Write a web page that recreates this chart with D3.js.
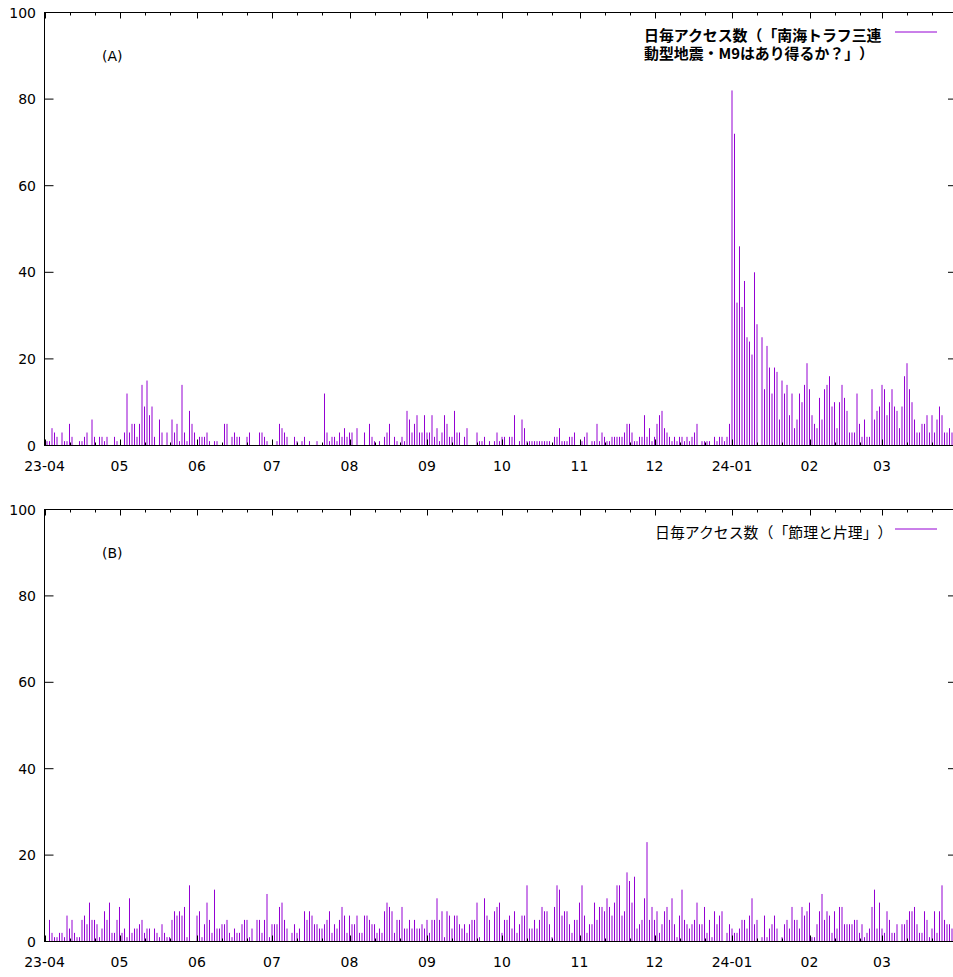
<!DOCTYPE html>
<html>
<head>
<meta charset="utf-8">
<script src="https://cdn.jsdelivr.net/npm/d3@7"></script>
<style>
  body { margin: 0; background: #fff; }
  svg { display: block; }
  .key { text-spacing-trim: space-all; font-feature-settings: "chws" 0, "halt" 0, "palt" 0; }
</style>
</head>
<body>
<div id="chart"></div>
<script>
// Date range of the x axis (one bar per day)
const startDate = "2023-04-01";
const endDate = "2024-03-31";
const monthLabels = ["23-04", "05", "06", "07", "08", "09", "10", "11", "12", "24-01", "02", "03"];
const yTicks = [0, 20, 40, 60, 80, 100];

// (A) daily access counts, one row per month (Apr 2023 .. Mar 2024)
const accessA = [
  [2,1,1,4,3,2,0,3,1,1, 5,2,0,0,1,1,2,3,0,6, 2,0,2,2,1,2,0,0,2,1],
  [0,0,3,12,3,5,5,2,5,14, 9,15,7,9,2,0,6,3,0,3, 0,6,3,5,1,14,3,1,8,5, 3],
  [0,2,2,2,3,1,0,1,1,0, 0,5,5,0,2,3,2,2,0,0, 2,3,0,0,0,3,3,2,1,0],
  [0,0,1,5,4,3,2,0,0,2, 1,0,1,2,0,1,0,0,1,0, 0,12,3,1,2,2,1,3,2,4, 2],
  [3,3,0,4,0,0,3,0,5,2, 1,0,1,0,2,3,5,0,2,1, 0,2,1,8,6,3,5,7,3,3, 7],
  [3,3,7,2,4,1,3,7,5,2, 2,8,3,3,0,2,4,0,0,0, 3,1,1,2,0,1,0,1,3,1],
  [2,2,0,2,2,7,0,1,6,4, 1,1,1,1,1,1,1,1,1,1, 0,2,2,4,1,1,1,2,2,3, 0],
  [0,1,2,3,0,1,1,5,1,3, 2,1,1,2,2,2,2,2,3,5, 5,3,1,1,2,2,7,2,4,1],
  [2,5,7,8,4,3,2,1,2,1, 2,2,1,2,1,2,3,5,0,1, 1,1,1,0,2,1,2,2,1,2, 5],
  [82,72,33,46,32,38,25,24,21,40, 28,0,25,13,23,18,12,18,17,6, 15,12,14,7,12,4,6,12,10,14, 19],
  [13,7,5,4,11,6,13,14,16,9, 10,4,10,14,11,8,3,3,3,12, 5,2,6,2,2,13,6,8,9],
  [14,13,7,10,13,9,8,4,9,16, 19,13,10,6,3,3,5,5,7,3, 7,3,6,9,7,3,3,4,3,3]
];

// (B) daily access counts, one row per month
const accessB = [
  [1,0,5,2,1,1,2,2,1,6, 3,5,2,1,1,5,6,4,9,5, 5,4,1,3,7,5,9,2,2,5],
  [8,2,3,1,10,2,3,3,4,5, 2,3,3,0,3,2,1,4,2,1, 1,5,7,6,7,6,8,1,13,0, 0],
  [6,7,1,4,9,5,2,12,3,3, 4,4,5,2,1,3,2,2,4,5, 5,1,3,0,5,5,2,5,11,1],
  [4,4,4,8,9,5,3,0,2,4, 2,3,0,7,5,7,6,4,4,3, 3,4,5,7,2,4,3,5,8,6, 2],
  [6,4,4,6,2,2,6,6,5,4, 4,2,3,2,7,9,8,7,2,5, 5,8,3,3,5,3,5,3,3,4, 3],
  [5,2,5,5,10,5,7,1,7,6, 3,6,6,4,3,4,2,4,5,5, 9,1,0,10,6,5,0,7,8,9],
  [2,5,5,6,3,7,2,4,6,6, 13,3,3,5,3,5,8,7,7,4, 1,8,13,12,6,7,7,4,2,5, 5],
  [9,13,6,2,4,4,9,5,8,8, 7,10,8,6,9,13,13,6,7,16, 14,9,15,3,4,5,10,23,5,8],
  [5,7,2,4,7,8,5,10,4,1, 6,12,5,4,3,4,5,9,4,4, 8,2,5,1,7,4,6,7,0,2, 4],
  [3,2,2,3,5,5,3,6,10,4, 5,0,1,6,1,3,4,6,3,0, 1,4,5,3,8,5,5,3,8,6, 7],
  [9,1,1,4,7,11,5,7,6,2, 7,3,8,8,4,4,4,4,5,5, 2,4,1,2,3,8,12,3,9],
  [3,2,7,5,2,2,4,0,4,4, 5,7,7,8,4,2,2,7,5,1, 3,7,2,7,13,5,4,4,3,3]
];

const keyA = ["日毎アクセス数（「南海トラフ三連", "動型地震・M9はあり得るか？」）"];
const keyB = ["日毎アクセス数（「節理と片理」）"];

const W = 953, H = 977;
const barColor = "#9400d3";
const tickFont = "'DejaVu Sans', sans-serif";
const cjkFont = "'Noto Sans CJK JP', sans-serif";

const parse = d3.utcParse("%Y-%m-%d");
const t0 = parse(startDate), t1 = parse(endDate);

const x = d3.scaleUtc().domain([t0, t1]).range([44.5, 957]);

const svg = d3.select("#chart").append("svg")
  .attr("width", W)
  .attr("height", H)
  .style("background", "#fff");

function drawPanel(rows, top, bottom, label, key, bold) {
  const data = rows.flat().map((v, i) => ({ date: d3.utcDay.offset(t0, i), value: v }));
  const y = d3.scaleLinear().domain([0, 100]).range([bottom, top]);
  const g = svg.append("g");
  const x0 = x.range()[0], x1 = x.range()[1];

  // impulses
  g.append("g")
    .selectAll("line")
    .data(data.filter(d => d.value > 0))
    .join("line")
    .attr("x1", d => x(d.date))
    .attr("x2", d => x(d.date))
    .attr("y1", y(0))
    .attr("y2", d => y(d.value))
    .attr("stroke", barColor)
    .attr("stroke-width", 1);

  // ticks on all sides
  const ticks = g.append("g").attr("stroke", "#000").attr("stroke-width", 1);
  yTicks.forEach(v => {
    ticks.append("line").attr("x1", x0).attr("x2", x0 + 9).attr("y1", y(v)).attr("y2", y(v));
    ticks.append("line").attr("x1", x1 - 9).attr("x2", x1).attr("y1", y(v)).attr("y2", y(v));
  });
  const months = d3.utcMonth.range(t0, t1);
  const minors = d3.utcDay.range(t0, t1).filter(d => d.getUTCDate() === 11 || d.getUTCDate() === 21);
  months.forEach(m => {
    const px = Math.round(x(m)) + 0.5;
    ticks.append("line").attr("x1", px).attr("x2", px).attr("y1", bottom).attr("y2", bottom - 6);
    ticks.append("line").attr("x1", px).attr("x2", px).attr("y1", top).attr("y2", top + 6);
  });
  minors.forEach(m => {
    const px = Math.round(x(m)) + 0.5;
    ticks.append("line").attr("x1", px).attr("x2", px).attr("y1", bottom).attr("y2", bottom - 3);
    ticks.append("line").attr("x1", px).attr("x2", px).attr("y1", top).attr("y2", top + 3);
  });

  // border
  g.append("rect")
    .attr("x", x0).attr("y", top)
    .attr("width", x1 - x0).attr("height", bottom - top)
    .attr("fill", "none").attr("stroke", "#000").attr("stroke-width", 1);

  // y labels
  g.append("g")
    .selectAll("text")
    .data(yTicks)
    .join("text")
    .attr("x", 36)
    .attr("y", d => y(d))
    .attr("dy", "0.36em")
    .attr("text-anchor", "end")
    .attr("font-family", tickFont)
    .attr("font-size", 14)
    .text(d => d);

  // x labels
  g.append("g")
    .selectAll("text")
    .data(months)
    .join("text")
    .attr("x", d => x(d))
    .attr("y", bottom + 25)
    .attr("text-anchor", "middle")
    .attr("font-family", tickFont)
    .attr("font-size", 14)
    .text((d, i) => monthLabels[i]);

  // panel label
  g.append("text")
    .attr("x", 102)
    .attr("y", top + 48)
    .attr("font-family", tickFont)
    .attr("font-size", 14)
    .text(label);

  // key
  const keyX = bold ? 644 : 655;
  key.forEach((line, i) => {
    g.append("text")
      .attr("class", "key")
      .attr("x", keyX)
      .attr("y", top + 28 + i * 18)
      .attr("font-family", cjkFont)
      .attr("font-size", 14.9)
      .attr("font-weight", bold ? "bold" : "normal")
      .text(line);
  });
  g.append("line")
    .attr("x1", 895).attr("x2", 937)
    .attr("y1", top + 19.5).attr("y2", top + 19.5)
    .attr("stroke", barColor)
    .attr("stroke-width", 1);
}

drawPanel(accessA, 12.5, 445.5, "(A)", keyA, true);
drawPanel(accessB, 509.5, 941.5, "(B)", keyB, false);
</script>
</body>
</html>
